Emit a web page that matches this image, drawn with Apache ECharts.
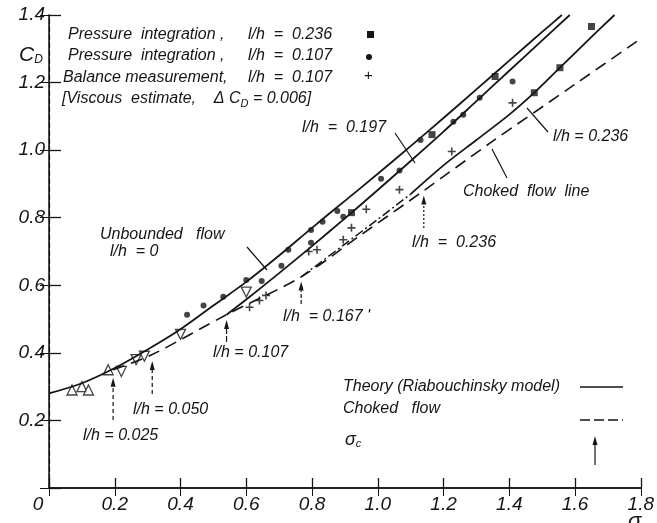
<!DOCTYPE html>
<html>
<head>
<meta charset="utf-8">
<script src="https://cdn.jsdelivr.net/npm/echarts@6/dist/echarts.min.js"></script>
<style>
  html, body { margin: 0; background: #fff; }
  #chart { width: 657px; height: 523px; }
</style>
</head>
<body>
<div id="chart"></div>
<script>
// ---- data (sigma, C_D) ----
const theoryUnbounded = [[0, 0.28], [0.1, 0.31], [0.2, 0.355], [0.3, 0.41], [0.4, 0.47], [0.5, 0.54], [0.6, 0.61],
  [0.7, 0.688], [0.8, 0.77], [0.9, 0.85], [1.0, 0.93], [1.1, 1.012], [1.2, 1.095], [1.3, 1.18], [1.4, 1.265], [1.5, 1.35], [1.56, 1.4]];
const theory107 = [[0.54, 0.513], [0.6, 0.558], [0.7, 0.636], [0.8, 0.716], [0.9, 0.798], [1.0, 0.882], [1.1, 0.968],
  [1.2, 1.055], [1.3, 1.145], [1.4, 1.235], [1.5, 1.325], [1.584, 1.4]];
const theory236 = [[0.767, 0.625], [0.9, 0.722], [1.0, 0.795], [1.1, 0.87], [1.2, 0.955], [1.3, 1.03], [1.4, 1.105],
  [1.476, 1.17], [1.554, 1.244], [1.65, 1.335], [1.72, 1.4]];
const chokedLine = [[0.195, 0.35], [0.314, 0.395], [0.54, 0.513], [0.767, 0.625], [0.95, 0.75], [1.14, 0.88],
  [1.34, 1.02], [1.6, 1.195], [1.8, 1.33]];
// sigma_c points marked by arrows
const sigmaC = [[0.195, 0.335], [0.314, 0.385], [0.54, 0.506], [0.767, 0.62], [1.14, 0.875]];

const squares236 = [[0.92, 0.815], [1.165, 1.046], [1.357, 1.218], [1.476, 1.17], [1.554, 1.244], [1.65, 1.366]];
const circles107 = [[0.42, 0.513], [0.47, 0.54], [0.53, 0.566], [0.60, 0.616], [0.647, 0.613], [0.707, 0.658],
  [0.728, 0.705], [0.797, 0.726], [0.797, 0.764], [0.832, 0.788], [0.877, 0.82], [0.895, 0.803], [1.01, 0.915],
  [1.066, 0.94], [1.13, 1.03], [1.23, 1.084], [1.26, 1.105], [1.31, 1.155], [1.41, 1.203]];
const balance107 = [[0.61, 0.535], [0.64, 0.555], [0.66, 0.57], [0.79, 0.70], [0.815, 0.705], [0.895, 0.735],
  [0.92, 0.77], [0.965, 0.825], [1.066, 0.883], [1.225, 0.996], [1.41, 1.14]];
const trianglesUp = [[0.07, 0.29], [0.10, 0.30], [0.12, 0.29], [0.18, 0.35]];
const trianglesDown = [[0.22, 0.345], [0.265, 0.38], [0.29, 0.39], [0.40, 0.455], [0.60, 0.58]];

const INK = '#151515';
const FONT = '"Liberation Sans", Arial, sans-serif';
const f = (size) => 'italic ' + size + 'px ' + FONT;

const chart = echarts.init(document.getElementById('chart'));

const axisCommon = {
  type: 'value',
  splitLine: { show: false },
  axisLine: { show: true, lineStyle: { color: INK, width: 1.5 } },
  axisTick: { show: true, inside: true, length: 10, lineStyle: { color: INK, width: 1.3 } }
};

const option = {
  animation: false,
  backgroundColor: '#fff',
  grid: { left: 49, right: 7, top: 15, bottom: 35 },
  xAxis: [
    Object.assign({}, axisCommon, {
      min: 0, max: 1.8, interval: 0.2, position: 'bottom',
      axisLabel: {
        color: INK, fontStyle: 'italic', fontFamily: FONT, fontSize: 19, margin: 7,
        formatter: v => v === 0 ? '{z|0}' : v.toFixed(1),
        rich: { z: { color: INK, fontStyle: 'italic', fontFamily: FONT, fontSize: 19, padding: [0, 22, 0, 0] } }
      }
    }),
    Object.assign({}, axisCommon, {
      min: 0, max: 1.8, interval: 0.2, position: 'top',
      axisLabel: { show: false }, axisTick: { show: true, inside: true, length: 8, lineStyle: { color: INK } }
    })
  ],
  yAxis: [
    Object.assign({}, axisCommon, {
      min: 0, max: 1.4, interval: 0.2, position: 'left',
      axisTick: { show: true, inside: true, length: 12, lineStyle: { color: INK, width: 1.3 } },
      axisLabel: {
        color: INK, fontStyle: 'italic', fontFamily: FONT, fontSize: 19, margin: 4,
        formatter: v => v === 0 ? '' : v.toFixed(1)
      }
    }),
    Object.assign({}, axisCommon, {
      min: 0, max: 1.4, interval: 0.2, position: 'right',
      axisLine: { show: true, lineStyle: { color: INK, width: 1.2, type: [6, 2] } },
      axisLabel: { show: false }, axisTick: { show: true, inside: true, length: 9, lineStyle: { color: INK } }
    })
  ],
  series: [
    { type: 'line', data: theoryUnbounded, smooth: 0.3, symbol: 'none', lineStyle: { color: INK, width: 1.8 } },
    { type: 'line', data: theory107, smooth: 0.3, symbol: 'none', lineStyle: { color: INK, width: 1.8 } },
    { type: 'line', data: theory236.slice(0, 4), smooth: 0.3, symbol: 'none', lineStyle: { color: INK, width: 1.5, type: [9, 3, 2, 3] } },
    { type: 'line', data: theory236.slice(3), smooth: 0.3, symbol: 'none', lineStyle: { color: INK, width: 1.8 } },
    { type: 'line', data: chokedLine, smooth: 0.3, symbol: 'none', lineStyle: { color: INK, width: 1.6, type: [12, 7] } },
    { type: 'scatter', data: squares236, symbol: 'rect', symbolSize: 7, itemStyle: { color: INK } },
    { type: 'scatter', data: circles107, symbol: 'circle', symbolSize: 6, itemStyle: { color: INK } },
    { type: 'scatter', data: balance107, symbol: 'path://M4,0H6V10H4Z M0,4H10V6H0Z', symbolSize: 8, itemStyle: { color: INK } },
    { type: 'scatter', data: trianglesUp, symbol: 'triangle', symbolSize: 10, itemStyle: { color: '#fff', borderColor: INK, borderWidth: 1.3 } },
    { type: 'scatter', data: trianglesDown, symbol: 'triangle', symbolRotate: 180, symbolSize: 10, itemStyle: { color: '#fff', borderColor: INK, borderWidth: 1.3 } }
  ]
};
chart.setOption(option);

// ---- annotations ----
function txt(x, y, text, size, extra) {
  return { type: 'text', x: x, y: y, silent: true,
    style: Object.assign({ text: text, font: f(size || 16), fill: INK, align: 'left', verticalAlign: 'middle' }, extra || {}) };
}
function seg(x1, y1, x2, y2, dash, w) {
  return { type: 'line', silent: true, shape: { x1, y1, x2, y2 }, style: { stroke: INK, lineWidth: w || 1.2, lineDash: dash || null } };
}
function arrow(x1, y1, x2, y2, dash) {
  const dx = x2 - x1, dy = y2 - y1, L = Math.hypot(dx, dy), ux = dx / L, uy = dy / L;
  const bx = x2 - ux * 9, by = y2 - uy * 9;
  return [seg(x1, y1, bx, by, dash), { type: 'polygon', silent: true,
    shape: { points: [[x2, y2], [bx - uy * 2.5, by + ux * 2.5], [bx + uy * 2.5, by - ux * 2.5]] },
    style: { fill: INK } }];
}
const px = p => chart.convertToPixel({ gridIndex: 0 }, p);

const g = [];
// top-left key
g.push(txt(68, 35, 'Pressure  integration ,'), txt(248, 35, 'l/h  =  0.236'));
g.push(txt(68, 56, 'Pressure  integration ,'), txt(248, 56, 'l/h  =  0.107'));
g.push(txt(63, 78, 'Balance measurement,'), txt(248, 78, 'l/h  =  0.107'));
g.push(txt(62, 99, '{a|[Viscous  estimate,    Δ C}{b|D}{a| = 0.006]}', 16, {
  rich: { a: { font: f(16), fill: INK }, b: { font: f(11), fill: INK, padding: [9, 0, 0, 0] } } }));
g.push({ type: 'rect', silent: true, shape: { x: 367, y: 31, width: 7, height: 7 }, style: { fill: INK } });
g.push({ type: 'circle', silent: true, shape: { cx: 369, cy: 57, r: 3 }, style: { fill: INK } });
g.push(txt(364, 76, '+', 15, { font: '15px ' + FONT }));
// axis names
g.push(txt(19, 55, '{c|C}{d|D}', 18, { rich: { c: { font: f(21), fill: INK }, d: { font: f(12), fill: INK, padding: [10, 0, 0, 0] } } }));
g.push(txt(628, 511, 'σ', 22, { verticalAlign: 'top' }));
// curve labels
g.push(txt(100, 235, 'Unbounded   flow'), txt(110, 252, 'l/h  = 0'), seg(247, 247, 267, 270));
g.push(txt(302, 128, 'l/h  =  0.197'), seg(395, 133, 415, 163));
g.push(txt(553, 137, 'l/h = 0.236'), seg(548, 132, 527, 108));
g.push(txt(463, 192, 'Choked  flow  line'), seg(507, 178, 492, 149));
// sigma_c arrows
const tails = [420, 394, 342, 304, 228];
const dashes = [[4, 3], [4, 3], [6, 2], [4, 2], [2, 2]];
sigmaC.forEach((p, i) => { const q = px(p); g.push(...arrow(q[0], tails[i], q[0], q[1] + 3, dashes[i])); });
g.push(txt(83, 436, 'l/h = 0.025'), txt(133, 410, 'l/h = 0.050'));
g.push(txt(213, 353, 'l/h = 0.107'), txt(283, 317, "l/h  = 0.167 '"), txt(412, 243, 'l/h  =  0.236'));
// bottom-right key
g.push(txt(343, 387, 'Theory (Riabouchinsky model)'), seg(580, 387, 623, 387, null, 1.6));
g.push(txt(343, 409, 'Choked   flow'), seg(580, 420, 623, 420, [10, 4], 1.6));
g.push(txt(345, 440, '{s|σ}{c|c}', 16, { rich: { s: { font: f(18), fill: INK }, c: { font: f(11), fill: INK, padding: [8, 0, 0, 0] } } }));
g.push(...arrow(595, 465, 595, 436));
chart.setOption({ graphic: g });
</script>
</body>
</html>
